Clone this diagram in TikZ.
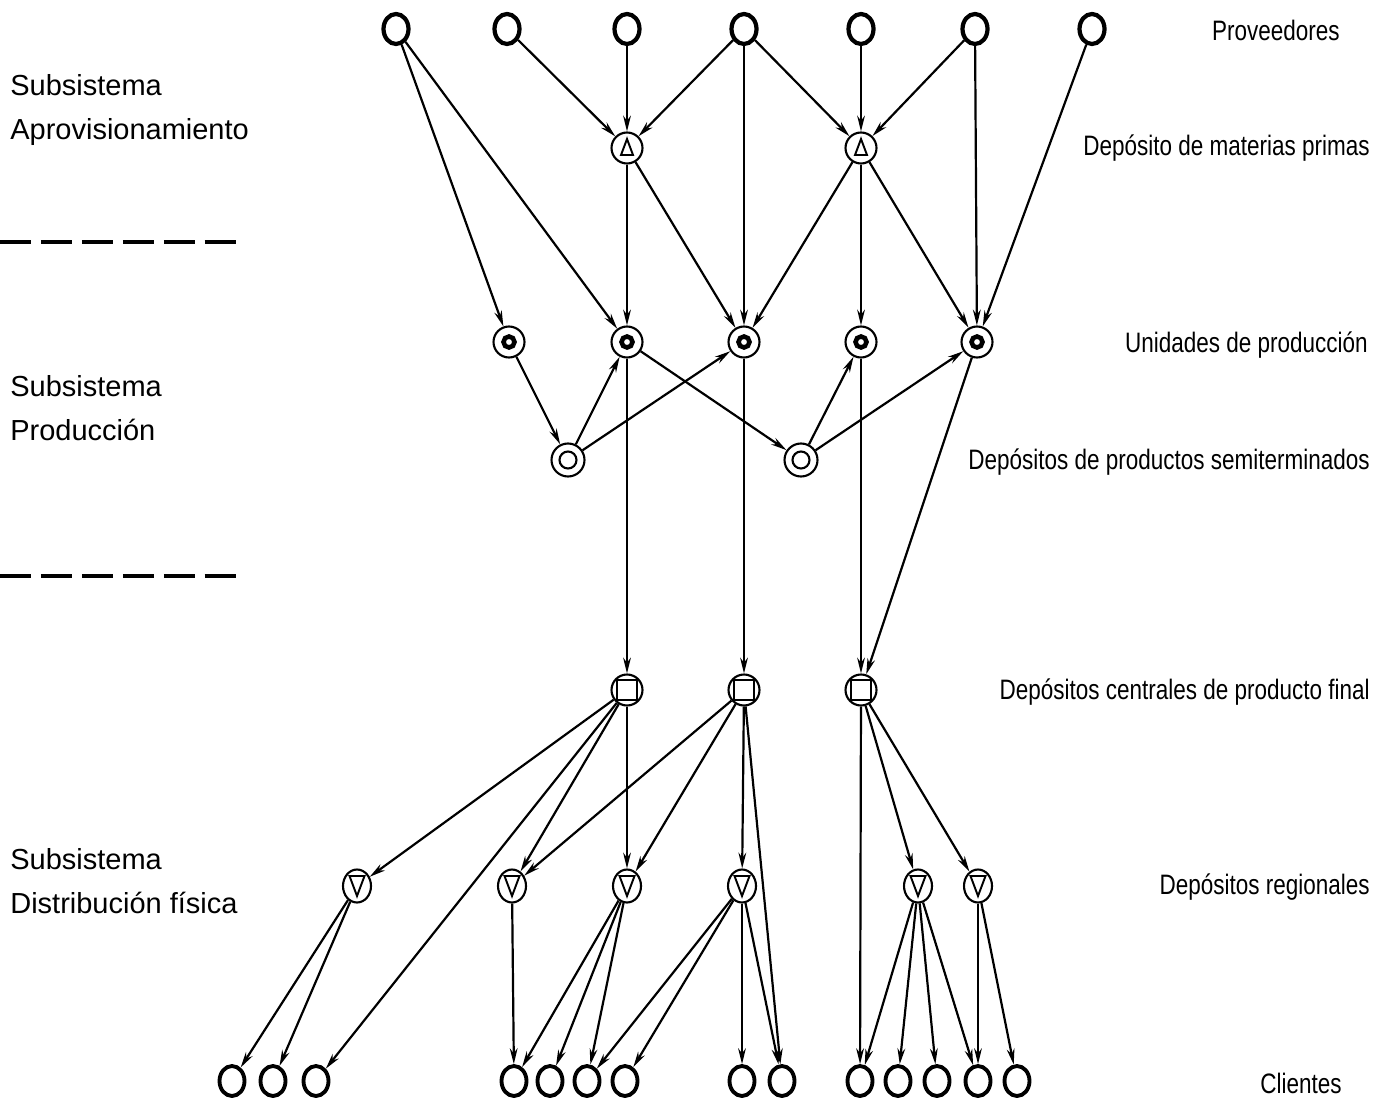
\documentclass[tikz,border=0pt]{standalone}
\usepackage{fontspec}
\setmainfont{Liberation Sans}
\newfontfamily\tagfont{Liberation Sans}[FakeStretch=0.8]
\usepackage{tikz}
\usetikzlibrary{arrows,arrows.meta,shapes}
\tikzstyle{vertex}=[ellipse,draw,line width=2.4pt,minimum width=0.5cm,minimum height=0.6cm,inner sep=0pt]
\tikzstyle{depot}=[circle,draw,line width=1.2pt,minimum size=0.62cm,inner sep=0pt]
\tikzstyle{rawdepot}=[depot,path picture={\draw[line width=1.1pt,shift={(path picture bounding box.center)}] (-6,7) -- (6,7) -- (0,-9) -- cycle;}]
\tikzstyle{unit}=[depot,path picture={\draw[line width=2.6pt,shift={(path picture bounding box.center)}] (0,0) circle (5.5);}]
\tikzstyle{semidepot}=[depot,minimum size=0.66cm,path picture={\draw[line width=1.2pt,shift={(path picture bounding box.center)}] (0,0) circle (8.5);}]
\tikzstyle{centraldepot}=[depot,path picture={\draw[line width=1.2pt,shift={(path picture bounding box.center)}] (-10,-10) rectangle (10,10);}]
\tikzstyle{regdepot}=[ellipse,draw,line width=1.2pt,minimum width=0.56cm,minimum height=0.66cm,inner sep=0pt,path picture={\draw[line width=1.1pt,shift={(path picture bounding box.center)}] (-7.5,-10) -- (7.5,-10) -- (0,10) -- cycle;}]
\tikzstyle{edge} = [draw,line width=1.25pt,->]
\tikzstyle{level} = [font=\tagfont\fontsize{16}{18}\selectfont,anchor=east,inner sep=0pt]
\tikzstyle{subsys} = [font=\fontsize{16.5}{25}\selectfont,anchor=west,align=left,inner sep=0pt]
\tikzstyle{divider} = [line width=2pt,dash pattern=on 17.6pt off 5.7pt]

\begin{document}
\begin{tikzpicture}[x=0.02cm,y=-0.02cm,>={Stealth[length=9pt,width=4.4pt]}]

  \useasboundingbox (0,0) rectangle (1388,1104);

  % proveedores
  \foreach \x/\name in {396/p1, 507/p2, 627/p3, 744/p4, 861/p5, 975/p6, 1092/p7}
          \node[vertex] (\name) at (\x, 29) {};

  % materias primas
  \foreach \x/\name in {627/r1, 861/r2}
          \node[rawdepot] (\name) at (\x, 148) {};

  % unidades de produccion y semiterminados
  \foreach \x/\name in {509/u1, 627/u2, 744/u3, 861/u4, 977/u5}
          \node[unit] (\name) at (\x, 342) {};
  \foreach \x/\name in {568/s1, 801/s2}
          \node[semidepot] (\name) at (\x, 460) {};

  % depositos centrales y regionales
  \foreach \x/\name in {627/c1, 744/c2, 861/c3}
          \node[centraldepot] (\name) at (\x, 690) {};
  \foreach \x/\name in {357/d1, 512/d2, 627/d3, 742/d4, 918/d5, 978/d6}
          \node[regdepot] (\name) at (\x, 886) {};

  % clientes
  \foreach \x/\name in {232/k1, 273/k2, 316/k3, 514/k4, 550/k5, 587/k6, 625/k7,
                        742/k8, 782/k9, 860/k10, 898/k11, 937/k12, 978/k13, 1017/k14}
          \node[vertex,line width=2.2pt] (\name) at (\x, 1081) {};

  \foreach \source/\dest in {p1/u1, p1/u2, p2/r1, p3/r1, p4/r1, p4/u3, p4/r2, p5/r2,
                             p6/r2, p6/u5, p7/u5,
                             r1/u2, r1/u3, r2/u3, r2/u4, r2/u5,
                             u1/s1, s1/u2, s1/u3, u2/s2, s2/u4, s2/u5,
                             u2/c1, u3/c2, u4/c3, u5/c3}
         \draw[edge] (\source) -- (\dest);

  \foreach \source/\dest in {c1/d1, c1/k3, c1/d2, c1/d3, c2/d2, c2/d3, c2/d4, c2/k9,
                             c3/k10, c3/d5, c3/d6,
                             d1/k1, d1/k2, d2/k4, d3/k4, d3/k5, d3/k6,
                             d4/k6, d4/k7, d4/k8, d4/k9,
                             d5/k10, d5/k11, d5/k12, d5/k13, d6/k13, d6/k14}
         \draw[edge] (\source) -- (\dest);

  % niveles
  \node[level] (lprov) at (1340, 30) {Proveedores};
  \node[level] (lmat) at (1370, 148) {Depósito de materias primas};
  \node[level] (lunid) at (1368, 345) {Unidades de producción};
  \node[level] (lsemi) at (1370, 462) {Depósitos de productos semiterminados};
  \node[level] (lcent) at (1370, 692) {Depósitos centrales de producto final};
  \node[level] (lreg) at (1370, 887) {Depósitos regionales};
  \node[level] (lcli) at (1342, 1083) {Clientes};

  % subsistemas
  \node[subsys] (aprov) at (10, 110) {Subsistema\\Aprovisionamiento};
  \node[subsys] (prod) at (10, 408) {Subsistema\\Producción};
  \node[subsys] (dist) at (10, 881) {Subsistema\\Distribución física};

  \draw[divider] (0, 242) -- (237, 242);
  \draw[divider] (0, 576) -- (237, 576);

\end{tikzpicture}
\end{document}
